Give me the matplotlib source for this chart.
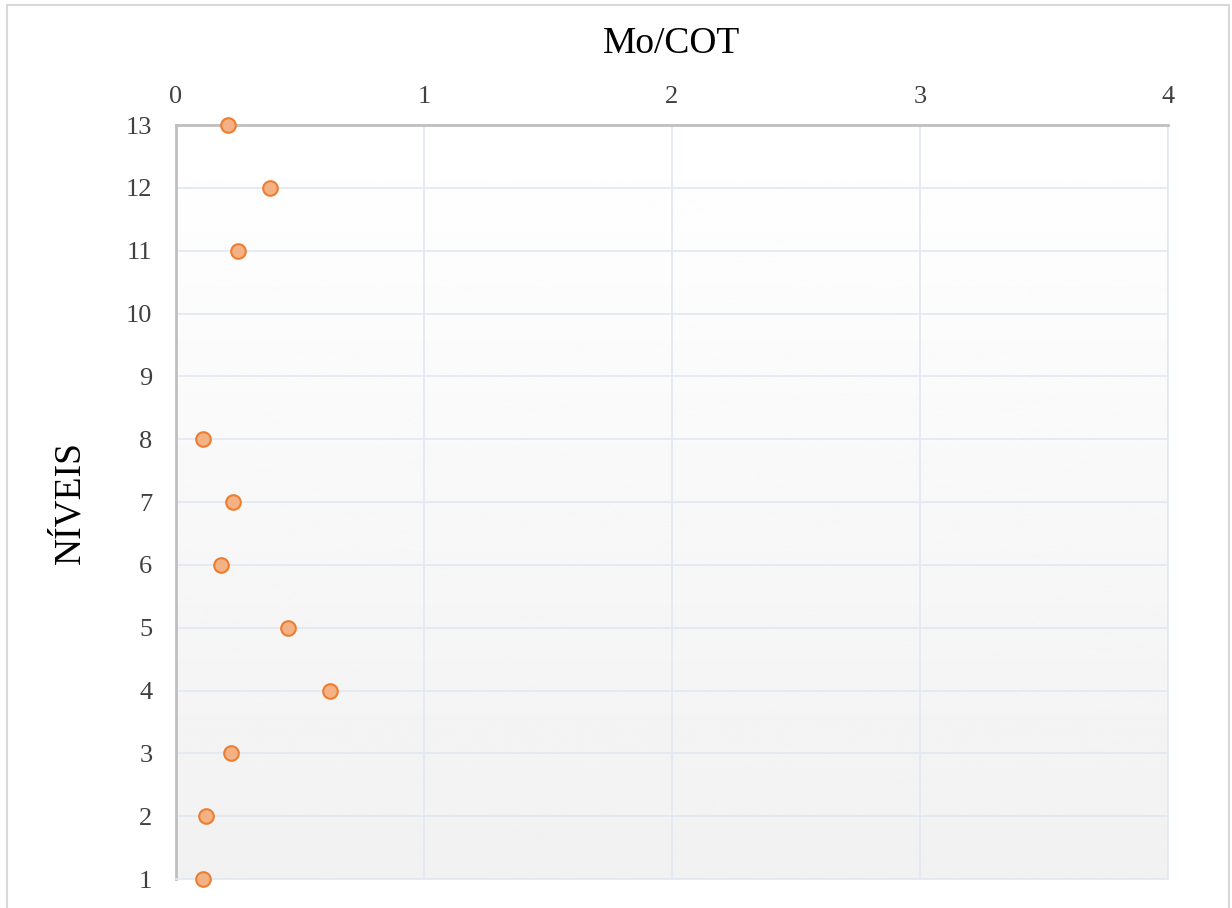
"""Mo/COT by level (NÍVEIS), scatter with x axis on top."""

import numpy as np
import matplotlib.pyplot as plt
from matplotlib.patches import Rectangle

niveis = [1, 2, 3, 4, 5, 6, 7, 8, 11, 12, 13]
mo_cot = [0.11, 0.12, 0.22, 0.62, 0.45, 0.18, 0.23, 0.11, 0.25, 0.38, 0.21]
x_ticks = [0, 1, 2, 3, 4]
y_ticks = list(range(1, 14))

plt.rcParams["font.family"] = ["Liberation Serif", "DejaVu Serif"]

fig = plt.figure(figsize=(12.32, 9.08), dpi=100)
fig.patches.append(Rectangle((7 / 1232, -0.1), 1222 / 1232, 1.1 - 5 / 908,
                             transform=fig.transFigure, fill=False,
                             edgecolor="#d9d9d9", linewidth=1.5))

ax = fig.add_axes([176 / 1232, 1 - 879 / 908, 992 / 1232, 754 / 908])

# soft vertical gradient background, white at top to light gray at bottom
grad = np.linspace(1.0, 0.945, 256).reshape(-1, 1)
ax.imshow(grad, extent=[0, 1, 0, 1], transform=ax.transAxes, cmap="gray",
          vmin=0, vmax=1, aspect="auto", zorder=0)

ax.set_xlim(0, 4)
ax.set_ylim(1, 13)
ax.set_xticks(x_ticks)
ax.set_yticks(y_ticks)
ax.grid(True, color="#e2e7f1", linewidth=1.2, zorder=1)
ax.set_axisbelow(True)

ax.xaxis.tick_top()
ax.xaxis.set_label_position("top")
ax.tick_params(axis="both", length=0, labelsize=19, colors="#404040")
ax.tick_params(axis="x", pad=12)
ax.tick_params(axis="y", pad=17)

for side in ["right", "bottom"]:
    ax.spines[side].set_color("#e2e7f1")
    ax.spines[side].set_linewidth(1.2)
for side in ["top", "left"]:
    ax.spines[side].set_color("#bfbfbf")
    ax.spines[side].set_linewidth(2)

ax.plot(mo_cot, niveis, linestyle="none", marker="o", markersize=10.5,
        markerfacecolor="#f4b183", markeredgecolor="#ed7d31",
        markeredgewidth=1.5, zorder=5, clip_on=False)

ax.set_xlabel("Mo/COT", fontsize=27, color="#000000", labelpad=24)
ax.set_ylabel("NÍVEIS", fontsize=27, color="#000000", labelpad=28)

fig.savefig("out.png", dpi=100)
